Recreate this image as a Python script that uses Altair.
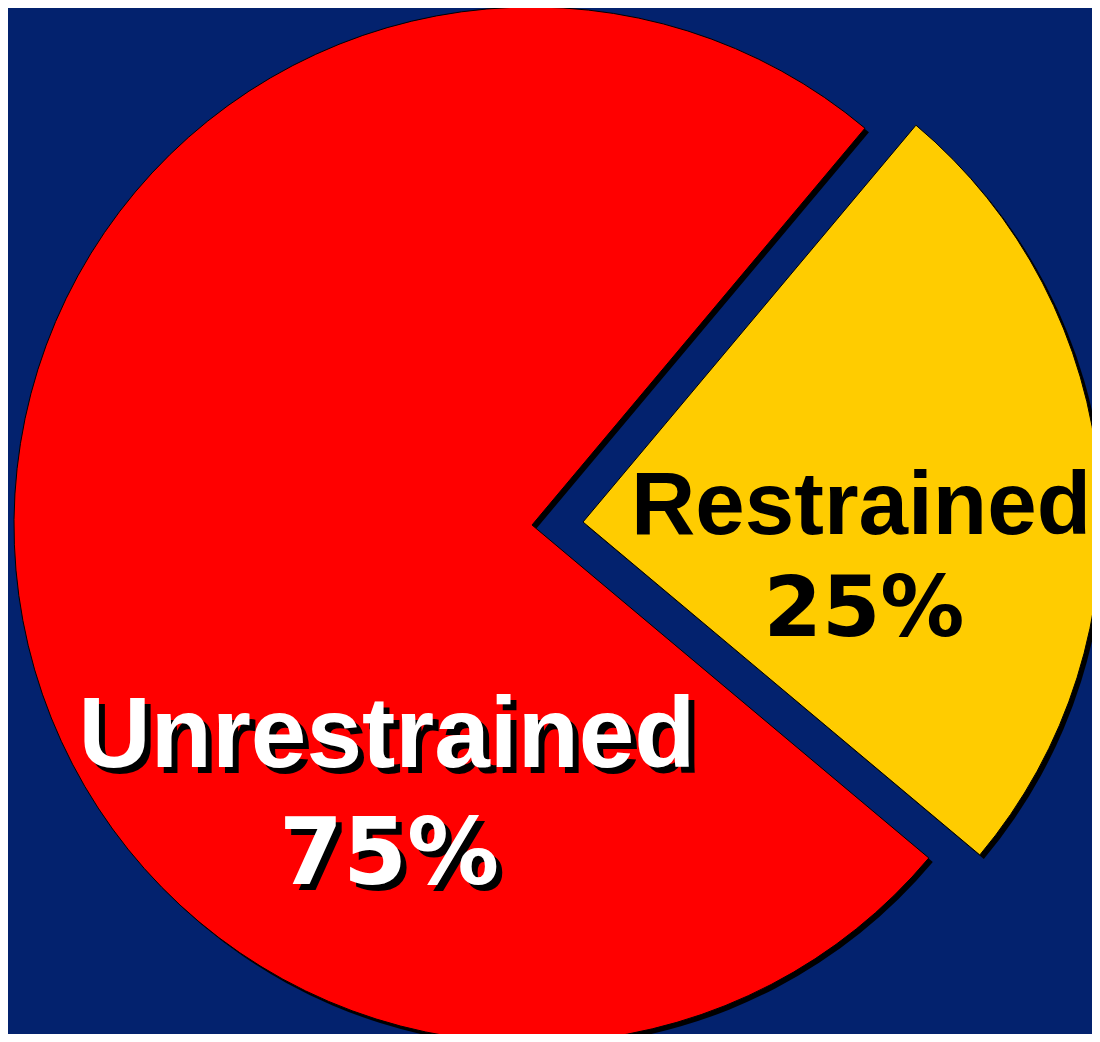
import math
import altair as alt
import pandas as pd

# ---- data ----
categories = ["Restrained", "Unrestrained"]
values = [25, 75]
slice_colors = ["#FFCC00", "#FF0000"]

df = pd.DataFrame({"category": categories, "value": values, "order": [0, 1]})

# ---- layout / style ----
BG = "#03226E"
R = 518
A0 = math.radians(40)
theta_scale = alt.Scale(domain=[0, 100], range=[A0, A0 + 2 * math.pi])
color_scale = alt.Scale(domain=categories, range=slice_colors)

centers = {"Restrained": (575, 514), "Unrestrained": (524, 517)}
SH = 4  # slice shadow offset

base = alt.Chart(df).transform_stack(
    stack="value", groupby=[], as_=["t0", "t1"],
    sort=[alt.SortField("order", order="ascending")]
).transform_calculate(pct="datum.value + '%'")


def slice_shadow(cat):
    cx, cy = centers[cat]
    return base.transform_filter(alt.datum.category == cat).mark_arc(
        outerRadius=R, fill="black"
    ).encode(
        theta=alt.Theta("t0:Q", scale=theta_scale),
        theta2="t1:Q",
        x=alt.value(cx + SH), y=alt.value(cy + SH),
    )


def slice_layer(cat):
    cx, cy = centers[cat]
    return base.transform_filter(alt.datum.category == cat).mark_arc(
        outerRadius=R, stroke="black", strokeWidth=1
    ).encode(
        theta=alt.Theta("t0:Q", scale=theta_scale),
        theta2="t1:Q",
        color=alt.Color("category:N", scale=color_scale, legend=None),
        x=alt.value(cx), y=alt.value(cy),
    )


def text_layer(cat, field, x, y, size, color, font, dx=0, dy=0):
    return base.transform_filter(alt.datum.category == cat).mark_text(
        font=font, fontWeight="bold", fontSize=size,
        align="center", baseline="alphabetic", color=color, dx=dx, dy=dy,
    ).encode(text=f"{field}:N", x=alt.value(x), y=alt.value(y))


NAME_FONT = "Liberation Sans"
PCT_FONT = "DejaVu Sans"

layers = [
    slice_shadow("Unrestrained"),
    slice_shadow("Restrained"),
    slice_layer("Unrestrained"),
    slice_layer("Restrained"),
    # Restrained labels (black)
    text_layer("Restrained", "category", 853, 526, 89, "black", NAME_FONT),
    text_layer("Restrained", "pct", 856, 628, 84, "black", PCT_FONT),
    # Unrestrained labels (white with black drop shadow)
    text_layer("Unrestrained", "category", 379, 759, 100, "black", NAME_FONT, dx=6, dy=6),
    text_layer("Unrestrained", "pct", 381, 876, 92, "black", PCT_FONT, dx=6, dy=6),
    text_layer("Unrestrained", "category", 379, 759, 100, "white", NAME_FONT),
    text_layer("Unrestrained", "pct", 381, 876, 92, "white", PCT_FONT),
]

chart = alt.layer(*layers).properties(
    width=1084, height=1026, background=BG, padding=0,
    autosize=alt.AutoSizeParams(type="none"),
).configure_view(stroke=None)

chart.save("out.html", embed_options={"renderer": "svg", "actions": False})
